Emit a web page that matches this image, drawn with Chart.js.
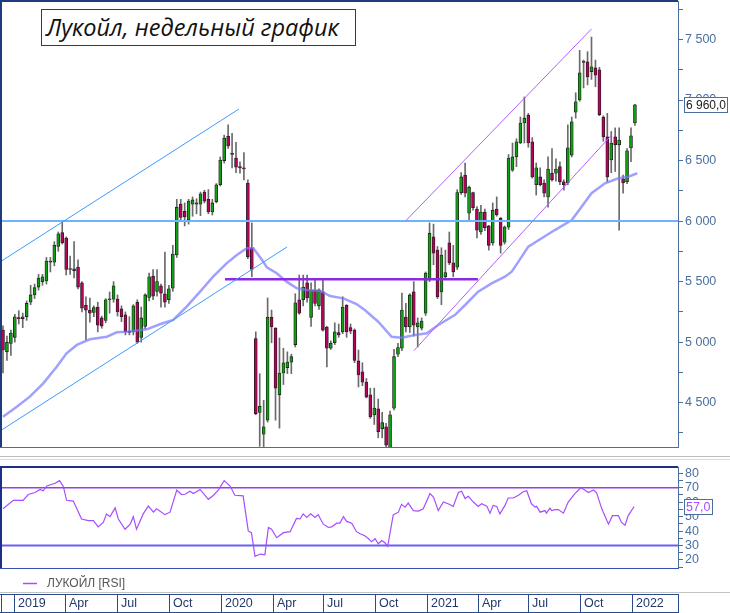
<!DOCTYPE html>
<html><head><meta charset="utf-8">
<script src="https://cdn.jsdelivr.net/npm/chart.js@4.4.0/dist/chart.umd.min.js"></script>
<style>
html,body{margin:0;padding:0;background:#fff;width:730px;height:613px;overflow:hidden;}
#main{position:absolute;left:0;top:0;}
#rsi{position:absolute;left:0;top:462px;}
#title{position:absolute;left:41px;top:9px;width:309px;height:35px;border:1px solid #3a3a3a;background:#fff;
 font-family:"Open Sans",sans-serif;font-style:italic;font-size:23.5px;line-height:35px;color:#111;padding-left:4px;box-sizing:content-box;white-space:nowrap;}
</style></head>
<body>
<canvas id="main" width="730" height="462"></canvas>
<canvas id="rsi" width="730" height="151"></canvas>
<div id="title">Лукойл, недельный график</div>
<script>
// ---- weekly OHLC (week index 0 = mid Dec 2018) ----
const open = [5100,4920,4990,5040,5200,5195,5210,5330,5390,5455,5500,5505,5670,5660,5790,5905,5860,5600,5605,5620,
5490,5305,5265,5245,5290,5200,5180,5350,5355,5355,5275,5225,5090,5085,5330,5040,5130,5370,5545,5420,
5465,5400,5350,5445,5720,6140,6080,6010,6140,6150,6140,6240,6180,6075,6160,6300,6500,6700,6560,6520,
6450,6440,6315,5780,5030,4420,4240,4355,5205,5117,4565,4745,4790,4835,4980,5350,5350,5490,5205,5430,
5300,5415,5125,4950,4995,5080,5085,5305,5120,5100,4845,4755,4670,4565,4400,4450,4285,4300,4120,4455,
4900,4950,5207,5125,5415,5125,5115,5240,5515,5870,5760,5415,5540,5820,5655,5620,6235,6380,6065,6235,
6100,5910,6075,5960,5820,6100,6025,5825,5950,6420,6530,6645,6810,6875,6655,6300,6365,6315,6200,6395,
6395,6450,6325,6315,6545,6900,7000,7310,7315,7235,7265,7250,6860,6695,6505,6695,6630,6350,6325,6605,6810];
const high = [5135,5050,5100,5230,5260,5240,5340,5470,5480,5560,5560,5700,5700,5830,5910,5990,5870,5710,5830,5680,
5500,5375,5365,5300,5330,5215,5360,5415,5500,5390,5300,5250,5210,5310,5350,5290,5400,5570,5600,5600,
5480,5745,5470,5800,6180,6180,6150,6180,6200,6185,6240,6255,6260,6180,6310,6530,6710,6795,6725,6650,
6490,6565,6340,5985,5085,4740,4520,5365,5265,5120,5035,4950,4920,4900,5400,5555,5555,5555,5490,5520,
5440,5520,5130,5010,5160,5150,5375,5310,5150,5110,4935,4830,4700,4620,4620,4530,4420,4330,4430,4940,
4990,5405,5320,5400,5500,5200,5200,5580,5985,5975,5790,5780,5760,5910,5800,6260,6400,6480,6290,6240,
6120,6130,6100,5965,6150,6200,6030,5960,6550,6645,6680,6860,7025,6890,6690,6480,6440,6340,6530,6600,
6515,6490,6340,6795,6860,7060,7410,7330,7400,7520,7330,7270,6870,6890,6740,6770,6770,6380,6600,6770,6965];
const low = [4745,4850,4890,5000,5150,5120,5180,5310,5360,5430,5470,5480,5580,5630,5750,5810,5555,5560,5530,5440,
5250,5020,5165,5210,5085,5115,5160,5240,5330,5215,5170,5060,5060,5060,4990,5000,5110,5340,5350,5380,
5290,5290,5320,5420,5700,6010,5960,5975,6040,6060,6045,6150,6060,6050,6150,6290,6480,6600,6440,6400,
6395,6340,5690,5540,4400,4140,4100,4340,4995,4355,4290,4650,4740,4740,4960,5230,5300,5330,5130,5300,
5270,5090,4795,4940,4980,5040,5070,5040,5070,4830,4630,4640,4540,4370,4320,4210,4210,4100,4100,4440,
4880,4930,5085,5080,5050,4960,5100,5220,5500,5640,5360,5310,5520,5640,5540,5600,6220,6200,6000,6090,
5860,5890,5920,5760,5800,6040,5735,5810,5930,6410,6450,6640,6645,6610,6355,6215,6290,6200,6115,6330,
6330,6300,6255,6300,6530,6850,6990,7100,7125,7170,7110,6870,6660,6325,6400,6410,5925,6230,6310,6490,6790];
const close = [4935,5000,5075,5210,5195,5210,5320,5390,5450,5530,5540,5670,5660,5800,5895,5820,5600,5605,5590,5455,
5280,5265,5240,5285,5140,5135,5350,5355,5465,5250,5210,5085,5080,5300,5000,5200,5390,5540,5380,5500,
5405,5330,5440,5727,6115,6030,6035,6165,6175,6140,6225,6165,6075,6150,6300,6505,6685,6620,6550,6445,
6440,6430,5705,5600,4410,4470,4300,5205,5125,4620,4745,4830,4835,4880,5325,5240,5455,5365,5430,5320,
5430,5100,4950,4990,5085,5060,5290,5085,5090,4850,4730,4670,4545,4385,4455,4260,4335,4150,4400,4880,
4955,5265,5125,5390,5140,5160,5175,5570,5900,5735,5375,5720,5575,5655,5580,6235,6365,6230,6280,6110,
5925,6075,5945,5800,6090,6050,5800,5950,6520,6530,6655,6810,6850,6645,6365,6440,6300,6230,6430,6340,
6430,6325,6300,6605,6820,6985,7225,7320,7190,7275,7205,6880,6695,6365,6645,6630,6670,6315,6580,6705,6960];

// moving average vertices [week, price]
const maPts = [[0,4384],[3.5,4467],[6.8,4550],[10.2,4660],[13.6,4797],[16.1,4908],[18.7,4977],[22,5024],[26.3,5045],
[28.8,5081],[31.3,5086],[36.4,5106],[39.7,5148],[43.1,5183],[46.5,5293],[49.9,5417],[53.2,5541],[56.6,5651],[59.2,5720],
[61.7,5775],[63.4,5775],[65.9,5665],[66.8,5618],[69.3,5569],[71.8,5500],[74.4,5445],[76.9,5431],[80.3,5425],[82.8,5381],
[86.2,5362],[89.5,5315],[91.6,5266],[95,5169],[98.4,5045],[100.9,5037],[104.3,5059],[107.3,5073],[110.2,5142],[114.4,5224],
[117,5307],[120.3,5417],[123.7,5486],[127.1,5541],[128.8,5582],[130.5,5665],[133,5789],[136.4,5858],[139.7,5926],[144,6009],
[146.5,6119],[149,6230],[152.4,6312],[155.8,6354],[158.3,6367],[160.6,6395]];

// RSI vertices [week, value]
const rsiPts = [[0,55.5],[2.6,61.3],[5.1,61.3],[6.4,65.3],[8.1,66.7],[9.4,68.8],[10.2,67.9],[11.1,71.2],[13.2,73.1],[14.3,74.9],
[15.3,70.7],[16.1,61.3],[17.8,60.8],[19.9,48.4],[21.6,47.2],[22.9,47.2],[24.1,42.9],[25.4,46.0],[26.2,51.9],[27.1,50.0],
[28.4,56.1],[29.2,48.4],[30.9,41.3],[32.2,44.8],[33.0,50.0],[33.8,41.3],[35.5,51.9],[36.8,57.3],[38.1,53.1],[38.9,55.4],
[41.0,51.4],[42.3,53.1],[44.0,68.4],[45.2,65.3],[46.1,65.5],[47.3,67.6],[48.2,66.0],[49.9,68.8],[52.0,62.0],[53.3,64.8],
[54.5,68.4],[56.0,74.9],[57.5,71.2],[58.7,64.8],[60.8,64.4],[62.1,40.1],[62.9,38.9],[63.8,22.5],[65.1,24.1],[66.3,23.6],
[67.2,42.5],[68.0,41.3],[69.3,35.4],[71.0,38.9],[72.7,39.6],[74.3,48.8],[75.2,48.4],[76.0,51.9],[76.9,49.5],[77.9,51.9],
[79.0,49.5],[79.8,51.4],[81.1,44.8],[82.4,42.5],[83.2,42.9],[84.5,45.5],[85.3,45.5],[86.2,50.0],[87.0,46.7],[88.3,45.5],
[89.5,39.6],[90.4,38.2],[91.6,36.8],[92.5,34.9],[93.3,32.6],[94.2,34.7],[95.0,31.2],[95.9,33.5],[96.7,31.9],[97.4,29.5],
[98.8,51.2],[100.1,53.1],[100.9,58.5],[101.8,56.6],[102.6,59.4],[103.9,54.2],[105.2,53.8],[106.4,55.4],[108.1,66.0],[109.0,63.6],
[110.2,54.2],[111.5,60.1],[112.7,58.9],[114.0,57.1],[115.3,66.7],[116.1,67.6],[117.0,62.5],[117.8,64.1],[119.1,60.1],[120.3,57.1],
[121.2,58.9],[122.5,57.3],[123.3,52.4],[124.1,57.8],[125.0,57.1],[125.8,51.9],[127.1,57.8],[127.9,62.9],[129.2,62.9],[130.5,64.8],
[131.7,67.2],[132.6,67.9],[133.8,58.9],[134.7,56.6],[135.1,57.1],[136.0,53.1],[137.2,54.2],[137.6,52.4],[138.5,55.9],[138.9,54.2],
[139.8,54.9],[140.6,54.9],[141.9,52.4],[143.1,60.1],[144.8,66.0],[146.3,70.0],[147.3,68.4],[148.2,66.7],[149.5,68.4],[150.3,66.5],
[151.6,55.4],[153.3,44.8],[154.3,50.7],[155.8,50.7],[156.6,46.0],[157.5,44.1],[158.3,50.7],[159.8,57.0]];

// trend lines [x1, y1, x2, y2] in week / price units
const blueChannelUp = [-0.25,5673,59.75,6926];
const blueChannelDn = [-0.25,4277,71.9,5786];
const purpleChannelUp = [101.9,6000,149.0,7587];
const purpleChannelDn = [104.05,4930,154.1,6711];
const purpleLevel = [56.2,5520,120.25,5520];
const blueLevel = 6000;

const priceTicks = [4500,5000,5500,6000,6500,7000,7500];
const rsiTicks = [20,30,40,50,60,70,80];
const rsiLevels = [70,30];
const quarterPos = [2.78,15.7,28.94,42.1,55.19,68.28,81.09,94.18,107.27,120.18,133.0,146.08,159.16];
const quarterLbl = ['2019','Apr','Jul','Oct','2020','Apr','Jul','Oct','2021','Apr','Jul','Oct','2022'];

const X_MIN = -0.25, X_MAX = 170.9;
const FONT = 'Liberation Sans, Arial, sans-serif';
const AXC = '#4a6f9f';
const fmtPrice = v => { const s = String(Math.round(v)); return s.length>3 ? s.slice(0,s.length-3)+' '+s.slice(-3) : s; };

const idx = open.map((_, i) => i);
const bodies = idx.map(i => ({x: i, y: [open[i], close[i]]}));
const wicks = idx.map(i => ({x: i, y: [low[i], high[i]]}));
const upCol = idx.map(i => close[i] >= open[i] ? '#0ea00e' : '#b6005a');
const seg = (a) => [{x:a[0], y:a[1]}, {x:a[2], y:a[3]}];
const lineDs = (data, color, w, order) => ({type:'line', data, borderColor:color, borderWidth:w, pointRadius:0, fill:false, tension:0, order});

const mainFrame = {
  id:'mainFrame',
  afterDraw(chart){
    const c = chart.ctx, a = chart.chartArea, ys = chart.scales.y;
    c.save();
    c.fillStyle = '#1d3c7c';
    c.fillRect(0, 0, 2, a.bottom);
    c.fillRect(0, 0, a.right, 2);
    c.fillStyle = AXC;
    c.fillRect(0, a.bottom, a.right+1, 1);
    c.fillStyle = '#bdbdbd'; c.fillRect(0, 456, 730, 1);
    c.fillStyle = '#dadada'; c.fillRect(0, 459, 730, 1);
    // last price box
    const last = close[close.length-1];
    const py = Math.round(ys.getPixelForValue(last));
    c.fillStyle = '#fff'; c.fillRect(684, py-8, 44, 16);
    c.strokeStyle = AXC; c.lineWidth = 1; c.strokeRect(684.5, py-7.5, 43, 15);
    c.fillStyle = '#1a1a1a'; c.font = '12px ' + FONT; c.textBaseline = 'middle'; c.textAlign='left';
    c.fillText(fmtPrice(last) + ',0', 686, py+0.5);
    c.restore();
  }
};

new Chart(document.getElementById('main'), {
  type:'bar',
  data:{datasets:[
    lineDs(seg(blueChannelUp), '#3d9bff', 1, 1),
    lineDs(seg(blueChannelDn), '#3d9bff', 1, 1),
    lineDs(seg(purpleChannelUp), '#b060ff', 1, 1),
    lineDs(seg(purpleChannelDn), '#b060ff', 1, 1),
    lineDs(seg(purpleLevel), '#8a2be2', 2.5, 1),
    lineDs([{x:X_MIN,y:blueLevel},{x:X_MAX,y:blueLevel}], '#6cb4ff', 2, 1),
    lineDs(maPts.map(p=>({x:p[0], y:p[1]})), 'rgba(120,120,255,0.7)', 2.5, 2),
    {label:'body', data:bodies, backgroundColor:upCol, borderColor:'#1e1e1e', borderWidth:0.8, borderSkipped:false,
     barThickness:3, minBarLength:1, grouped:false, order:3},
    {label:'wick', data:wicks, backgroundColor:'#6a6a6a', barThickness:1, grouped:false, order:4}
  ]},
  options:{
    responsive:false, animation:false, devicePixelRatio:1,
    layout:{padding:{left:2, top:1, right:0, bottom:15}},
    plugins:{legend:{display:false}, tooltip:{enabled:false}},
    scales:{
      x:{type:'linear', min:X_MIN, max:X_MAX, display:false, offset:false},
      y:{position:'right', min:4134, max:7818,
         ticks:{stepSize:250, includeBounds:false, autoSkip:false, padding:2, color:AXC,
                font:{family:FONT, size:12.5},
                callback:v => priceTicks.includes(v) ? fmtPrice(v) : ''},
         grid:{drawOnChartArea:false, tickLength:5, color:AXC},
         border:{color:AXC},
         afterFit(s){ s.width = 52; s.paddingTop = 0; s.paddingBottom = 0; }}
    }
  },
  plugins:[mainFrame]
});

const rsiFrame = {
  id:'rsiFrame',
  afterDraw(chart){
    const c = chart.ctx, a = chart.chartArea, xs = chart.scales.x, ys = chart.scales.y;
    c.save();
    c.fillStyle = '#1d2f86';
    c.fillRect(0, a.top-1, a.right, 2);
    c.fillRect(0, a.top-1, 2, a.bottom-a.top+1);
    c.fillStyle = '#3552b0';
    c.fillRect(0, a.bottom, a.right+1, 1);
    // rsi value box
    const lastR = rsiPts[rsiPts.length-1][1];
    const py = Math.round(ys.getPixelForValue(lastR));
    c.fillStyle = '#fff'; c.fillRect(684, py-8, 29, 16);
    c.strokeStyle = AXC; c.lineWidth = 1; c.strokeRect(684.5, py-7.5, 28, 15);
    c.fillStyle = '#a64dff'; c.font = '12.5px ' + FONT; c.textBaseline = 'middle'; c.textAlign='left';
    c.fillText(lastR.toFixed(1).replace('.', ','), 686, py+0.5);
    // legend
    c.strokeStyle = '#a64dff'; c.lineWidth = 1.5;
    c.beginPath(); c.moveTo(23, 121.5); c.lineTo(37, 121.5); c.stroke();
    c.fillStyle = '#555'; c.font = '12px ' + FONT;
    c.fillText('ЛУКОЙЛ [RSI]', 47, 122);
    // time axis
    c.fillStyle = '#c4c4c4'; c.fillRect(0, 130, 730, 1);
    c.fillStyle = '#2b4a8c';
    c.fillRect(0, 132, a.right+1, 1);
    c.fillRect(0, 150, a.right+1, 1);
    c.fillRect(1, 132, 1, 19);
    c.fillRect(Math.round(a.right), 132, 1, 19);
    c.font = '12.5px ' + FONT;
    quarterPos.forEach((q, k) => {
      const px = Math.round(xs.getPixelForValue(q));
      c.fillStyle = '#2b4a8c'; c.fillRect(px, 132, 1, 19);
      c.fillStyle = '#22386b'; c.fillText(quarterLbl[k], px+4, 142);
    });
    c.restore();
  }
};

new Chart(document.getElementById('rsi'), {
  type:'line',
  data:{datasets:[
    lineDs([{x:X_MIN,y:rsiLevels[0]},{x:X_MAX,y:rsiLevels[0]}], '#9340e6', 1.3, 2),
    lineDs([{x:X_MIN,y:rsiLevels[1]},{x:X_MAX,y:rsiLevels[1]}], '#6a60f2', 2, 2),
    lineDs(rsiPts.map(p=>({x:p[0], y:p[1]})), '#a64dff', 1.2, 1)
  ]},
  options:{
    responsive:false, animation:false, devicePixelRatio:1,
    layout:{padding:{left:2, top:5, right:0, bottom:45}},
    plugins:{legend:{display:false}, tooltip:{enabled:false}},
    scales:{
      x:{type:'linear', min:X_MIN, max:X_MAX, display:false},
      y:{position:'right', min:14.46, max:84.36,
         ticks:{stepSize:5, includeBounds:false, autoSkip:false, padding:2, color:AXC,
                font:{family:FONT, size:12.5},
                callback:v => rsiTicks.includes(v) ? String(v) : ''},
         grid:{drawOnChartArea:false, tickLength:5, color:AXC},
         border:{color:AXC},
         afterFit(s){ s.width = 52; s.paddingTop = 0; s.paddingBottom = 0; }}
    }
  },
  plugins:[rsiFrame]
});
</script>
</body></html>
